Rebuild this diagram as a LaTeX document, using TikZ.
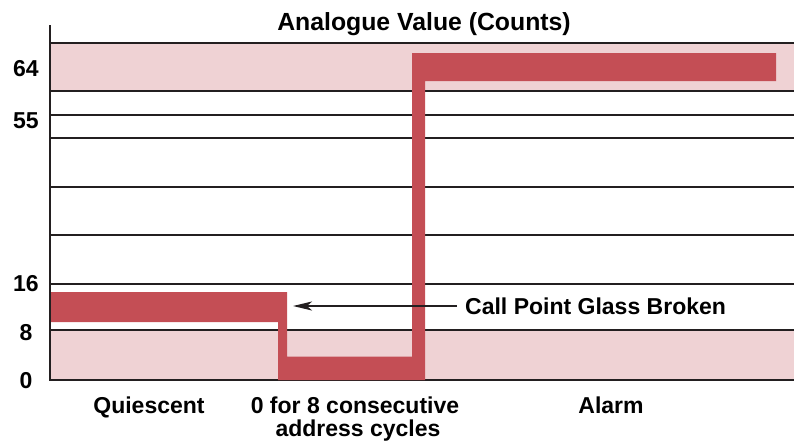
\documentclass[tikz,border=0pt]{standalone}
\usepackage{fontspec}
\setmainfont{Liberation Sans}
\usetikzlibrary{arrows.meta,positioning}
\definecolor{sigred}{HTML}{C44E55}
\definecolor{bandpink}{HTML}{EFD2D4}
\definecolor{gridline}{HTML}{231F20}

\begin{document}
\begin{tikzpicture}[x=1pt,y=-1pt,
        font=\bfseries\fontsize{23}{26}\selectfont,
        gridrule/.style={line width=2.2pt, color=gridline},
        lbl/.style={anchor=base, inner sep=0pt}]
        \useasboundingbox (0,0) rectangle (794,442);
        \fill[bandpink] (50,43) rectangle (794,91);
        \fill[bandpink] (50,330) rectangle (794,380);
        \foreach \y in {43,91,115,138,187,235,284,330,380}
            \draw[gridrule] (50,\y) -- (794,\y);

        % signal trace
        \fill[sigred] (50,292) -- (287,292) -- (287,356.5) -- (412,356.5)
            -- (412,53) -- (776,53) -- (776,81) -- (425,81) -- (425,380)
            -- (278,380) -- (278,322) -- (50,322) -- cycle;
        \draw[gridrule] (50,25) -- (50,381);

        \node[lbl, font=\bfseries\fontsize{24.8}{26}\selectfont] (title) at (424,30) {Analogue Value (Counts)};

        \foreach \v/\u/\t in
        {76/64/64,
         128/55/55,
         291.5/16/16,
         340/8/8,
         388/0/0
        }
        {
            \node[lbl] (tick\u) at (26,\v) {\t};
        };

        \node[lbl] (quiescent) at (149,413) {Quiescent};
        \node[lbl] (zerofor) at (355,413) {0 for 8 consecutive};
        \node[lbl] (addrcyc) at (358,436) {address cycles};
        \node[lbl] (alarm) at (611,413) {Alarm};

        \node[anchor=west, inner sep=0pt] (cpgb) at (465,306) {Call Point Glass Broken};
        \coordinate (brk) at (293,306);
        \draw[gridrule, -{Stealth[length=19pt,width=9pt,inset=5pt]}, shorten <=8pt] (cpgb.west) -- (brk);
\end{tikzpicture}
\end{document}
